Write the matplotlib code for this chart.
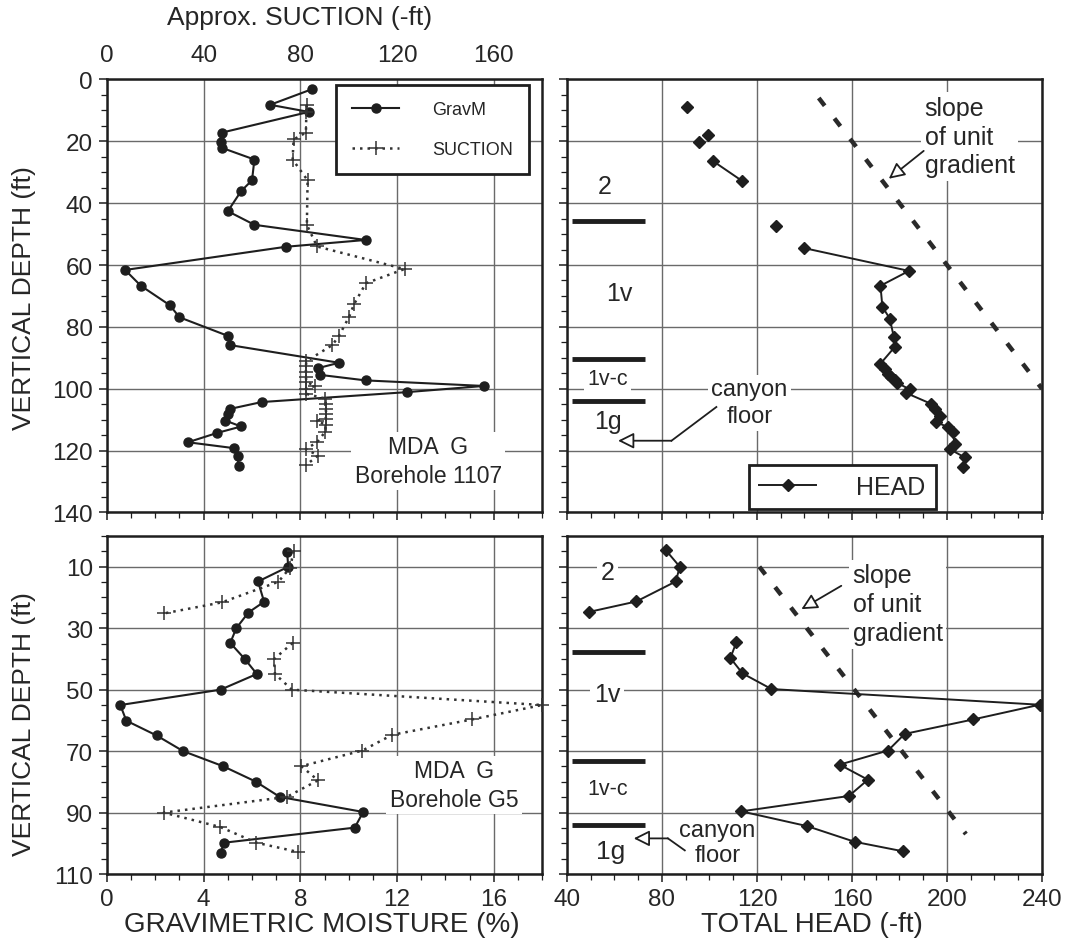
import matplotlib
matplotlib.use('Agg')
import matplotlib.pyplot as plt
import numpy as np
from matplotlib.lines import Line2D
from matplotlib.ticker import MultipleLocator

plt.rcParams['font.family'] = ['Liberation Sans', 'DejaVu Sans']

# ---------------- data: borehole 1107 (top row) ----------------
gravm_1107_depth = [3.1, 8.2, 10.5, 17.2, 20.2, 22.1, 25.9, 32.6, 36.1, 42.6, 47.0, 51.9, 54.1,
                    61.6, 66.7, 73.0, 76.9, 82.9, 85.9, 91.6, 93.3, 95.5, 97.3, 99.1, 101.1,
                    104.3, 106.5, 108.1, 110.3, 112.2, 114.3, 117.3, 119.2, 121.9, 125.1]
gravm_1107 = [8.5, 6.75, 8.35, 4.75, 4.7, 4.75, 6.1, 6.0, 5.55, 5.0, 6.1, 10.7, 7.4,
              0.75, 1.4, 2.6, 3.0, 5.0, 5.1, 9.6, 8.75, 8.8, 10.7, 15.6, 12.4,
              6.4, 5.1, 5.0, 4.9, 5.55, 4.55, 3.35, 5.25, 5.4, 5.45]

suction_1107_depth = [8.2, 10.5, 17.2, 19.4, 25.9, 32.6, 47.0, 54.0, 61.3, 65.9, 72.7, 76.7,
                      82.9, 85.9, 91.1, 92.6, 94.6, 96.2, 97.8, 99.1, 100.0, 101.6, 103.2,
                      104.9, 106.5, 108.1, 109.7, 110.3, 111.7, 113.9, 117.3, 119.5, 121.6, 124.7]
suction_1107 = [82.7, 82.5, 82.3, 77.2, 76.8, 83.0, 82.7, 86.9, 123.1, 107.1, 102.2, 100.2,
                96.0, 93.2, 82.5, 82.3, 82.3, 82.3, 82.5, 86.2, 82.3, 82.3, 90.3,
                90.5, 90.5, 90.7, 90.5, 86.9, 90.5, 90.3, 86.9, 82.3, 87.3, 82.3]

head_1107_depth = [8.9, np.nan, 18.0, np.nan, 20.1, np.nan, 26.4, 32.9, np.nan, 47.5, np.nan,
                   54.5, 61.9, 66.7, 73.5, 77.3, 83.2, 86.5, 91.9, 93.7, 95.1, 96.2, 97.3,
                   98.1, 100.2, 101.4, 104.9, 106.5, 108.7, 110.8, 112.4, 114.1, 117.9,
                   119.5, 122.2, 125.4]
head_1107 = [90.5, np.nan, 99.4, np.nan, 95.6, np.nan, 101.5, 113.9, np.nan, 128.2, np.nan,
             139.7, 184.0, 172.0, 172.8, 175.9, 177.6, 178.0, 172.0, 173.8, 175.2, 176.6, 178.0,
             179.0, 184.3, 182.9, 193.4, 194.8, 196.9, 195.5, 200.4, 202.5, 203.2,
             201.1, 207.5, 206.8]

unit_1107_depth = [6, 100]
unit_1107_head = [146, 240]
layers_1107 = [45.7, 90.4, 104.0]

# ---------------- data: borehole G5 (bottom row) ----------------
gravm_g5_depth = [5.1, 10.0, 14.8, 21.4, 24.9, 30.0, 34.8, 40.0, 44.9, 50.0, 55.0, 60.1,
                  64.9, 70.0, 74.9, 79.9, 84.9, 89.8, 94.9, 99.8, 103.0]
gravm_g5 = [7.45, 7.5, 6.25, 6.5, 5.85, 5.35, 5.1, 5.7, 6.2, 4.7, 0.55, 0.8,
            2.05, 3.15, 4.8, 6.15, 7.15, 10.6, 10.25, 4.85, 4.7]

suction_g5_depth = [4.9, 10.3, 14.9, 21.6, 25.2, np.nan, 34.8, 40.0, 44.9, 50.0, 55.0, 59.7,
                    64.7, 69.8, 74.9, 79.5, 84.9, 90.0, 94.7, 99.8, 102.8]
suction_g5 = [77.2, 75.8, 70.9, 47.5, 23.5, np.nan, 76.8, 69.2, 69.5, 76.5, 180.0, 151.0,
              118.0, 105.7, 80.4, 87.3, 74.4, 23.5, 46.9, 61.8, 79.0]

head_g5_depth = [4.6, 10.0, 14.8, 21.3, 24.7, np.nan, 34.6, 39.7, 44.7, 49.8, 54.9, 59.7,
                 64.4, 69.8, 74.4, 79.3, 84.6, 89.6, 94.4, 99.5, 102.6]
head_g5 = [81.6, 87.5, 85.8, 69.2, 49.3, np.nan, 111.3, 108.8, 113.9, 126.1, 239.0, 211.0,
           182.2, 175.2, 154.8, 166.7, 158.7, 113.4, 141.1, 161.1, 181.5]

unit_g5_depth = [10, 97]
unit_g5_head = [121, 208]
layers_g5 = [37.7, 73.2, 94.0]

# ---------------- styling ----------------
INK = '#1e1e1e'
GRID = '#6a6a6a'
TXT = '#262626'

fig = plt.figure(figsize=(10.71, 9.53), dpi=100)

ax_tl = fig.add_axes([0.0999, 0.4612, 0.4062, 0.4544])
ax_tr = fig.add_axes([0.5294, 0.4612, 0.4435, 0.4544])
ax_bl = fig.add_axes([0.0999, 0.0818, 0.4062, 0.3547])
ax_br = fig.add_axes([0.5294, 0.0818, 0.4435, 0.3547])


def style(ax, xlim, xmaj, xmin, ylim, ymaj, ymin, xlabels, ylabels):
    ax.set_xlim(xlim)
    ax.set_ylim(ylim)
    ax.xaxis.set_major_locator(MultipleLocator(xmaj))
    ax.xaxis.set_minor_locator(MultipleLocator(xmin))
    ax.set_yticks(ymaj)
    ax.yaxis.set_minor_locator(MultipleLocator(ymin))
    ax.grid(True, which='major', color=GRID, lw=1.0)
    ax.set_axisbelow(True)
    ax.tick_params(which='major', direction='out', length=6, width=1.1, color=INK,
                   labelsize=17.5, labelcolor=TXT, pad=4)
    ax.tick_params(which='minor', direction='out', length=4, width=0.9, color=INK)
    ax.tick_params(axis='x', labelbottom=xlabels)
    ax.tick_params(axis='y', labelleft=ylabels)
    for sp in ax.spines.values():
        sp.set_linewidth(1.8)
        sp.set_color(INK)


style(ax_tl, (0, 18), 4, 1, (140, 0), np.arange(0, 141, 20), 5, False, True)
style(ax_tr, (40, 240), 40, 10, (140, 0), np.arange(0, 141, 20), 5, False, False)
style(ax_bl, (0, 18), 4, 1, (110, 0), np.arange(10, 111, 20), 5, True, True)
style(ax_br, (40, 240), 40, 10, (110, 0), np.arange(10, 111, 20), 5, True, False)

# twin (suction) axes
tw_tl = ax_tl.twiny()
tw_bl = ax_bl.twiny()
for tw in (tw_tl, tw_bl):
    tw.set_xlim(0, 180)
    tw.xaxis.set_major_locator(MultipleLocator(40))
    tw.tick_params(which='major', direction='out', length=0, width=1, color=INK,
                   labelsize=17.5, labelcolor=TXT, pad=10)
    for sp in tw.spines.values():
        sp.set_visible(False)
tw_bl.tick_params(labeltop=False, length=0)

grav_kw = dict(color=INK, lw=1.5, marker='o', ms=6.5, zorder=4)
suc_kw = dict(color='#333333', lw=1.8, ls=(0, (1, 2)), marker='+', ms=10, mew=1.1,
              zorder=3, clip_on=False)
head_kw = dict(color=INK, lw=1.4, marker='D', ms=6.3, zorder=4)
unit_kw = dict(color='#2a2a2a', lw=3.2, ls=(0, (2.2, 3.6)), zorder=3)

ax_tl.plot(gravm_1107, gravm_1107_depth, **grav_kw)
tw_tl.plot(suction_1107, suction_1107_depth, **suc_kw)
ax_bl.plot(gravm_g5, gravm_g5_depth, **grav_kw)
tw_bl.plot(suction_g5, suction_g5_depth, **suc_kw)

ax_tr.plot(head_1107, head_1107_depth, **head_kw)
ax_br.plot(head_g5, head_g5_depth, **head_kw)
ax_tr.plot(unit_1107_head, unit_1107_depth, **unit_kw)
ax_br.plot(unit_g5_head, unit_g5_depth, **unit_kw)

# layer boundaries
for ax, layers in ((ax_tr, layers_1107), (ax_br, layers_g5)):
    for d in layers:
        ax.plot([42, 73], [d, d], color=INK, lw=3.5, solid_capstyle='butt', zorder=3)

wbox = dict(boxstyle='square,pad=0.15', fc='white', ec='none')

# borehole labels
ax_tl.text(13.3, 123.4, 'MDA  G\nBorehole 1107', fontsize=16.5, color=TXT, ha='center',
           va='center', linespacing=1.3, bbox=wbox, zorder=5)
ax_bl.text(14.35, 81, 'MDA  G\nBorehole G5', fontsize=16.5, color=TXT, ha='center',
           va='center', linespacing=1.3, bbox=wbox, zorder=5)

# stratigraphic unit labels
for ax, pos in ((ax_tr, [(55.9, 34.4, '2', 18), (62.2, 69.2, '1v', 18),
                         (57.1, 96.8, '1v-c', 15.5), (57.1, 110.4, '1g', 18)]),
                (ax_br, [(57, 11.8, '2', 18), (57, 51.4, '1v', 18),
                         (57, 82.2, '1v-c', 15.5), (58.2, 102.4, '1g', 19)])):
    for x, y, s, fs in pos:
        ax.text(x, y, s, fontsize=fs, color=TXT, ha='center', va='center',
                bbox=wbox, zorder=5)

# slope of unit gradient annotations
arrow_open = dict(arrowstyle='-|>', fc='white', ec=INK, lw=1.3, mutation_scale=24,
                  shrinkA=0, shrinkB=0)
ax_tr.text(190.6, 18.5, 'slope\nof unit\ngradient', fontsize=18, color=TXT, ha='left',
           va='center', linespacing=1.25, bbox=wbox, zorder=5)
ax_tr.annotate('', xy=(175.5, 32.1), xytext=(190.2, 23.1), arrowprops=arrow_open, zorder=6)
ax_br.text(160.3, 22.2, 'slope\nof unit\ngradient', fontsize=18, color=TXT, ha='left',
           va='center', linespacing=1.25, bbox=wbox, zorder=5)
ax_br.annotate('', xy=(138.7, 23.8), xytext=(155.5, 16.2), arrowprops=arrow_open, zorder=6)

# canyon floor annotations
ax_tr.text(116.8, 104.5, 'canyon\nfloor', fontsize=17, color=TXT, ha='center', va='center',
           linespacing=1.3, bbox=wbox, zorder=5)
ax_tr.plot([102.9, 84.0], [105.9, 116.8], color=INK, lw=1.3, zorder=6)
ax_tr.annotate('', xy=(61.5, 116.8), xytext=(84.0, 116.8), arrowprops=arrow_open, zorder=6)
ax_br.text(103.4, 99.8, 'canyon\nfloor', fontsize=17, color=TXT, ha='center', va='center',
           linespacing=1.15, zorder=5)
ax_br.plot([89.6, 82.5], [102.3, 98.4], color=INK, lw=1.3, zorder=6)
ax_br.annotate('', xy=(68.1, 98.4), xytext=(82.5, 98.4), arrowprops=arrow_open, zorder=6)

# legends
h1 = [Line2D([], [], **{k: v for k, v in grav_kw.items() if k != 'zorder'}),
      Line2D([], [], **{k: v for k, v in suc_kw.items() if k not in ('zorder', 'clip_on')})]
leg = tw_tl.legend(h1, ['GravM', 'SUCTION'], loc='upper right', bbox_to_anchor=(0.970, 0.987),
                   fancybox=False, framealpha=1, edgecolor=INK, fontsize=13, labelspacing=1.25,
                   borderpad=0.9, handlelength=2.6, handletextpad=1.8, borderaxespad=0)
leg.get_frame().set_linewidth(2)
for t in leg.get_texts():
    t.set_color(TXT)

h2 = [Line2D([], [], **{k: v for k, v in head_kw.items() if k != 'zorder'})]
leg2 = ax_tr.legend(h2, ['HEAD'], loc='lower left', bbox_to_anchor=(0.383, 0.008),
                    fancybox=False, framealpha=1, edgecolor=INK, fontsize=18,
                    borderpad=0.4, handlelength=2.3, handletextpad=1.6, borderaxespad=0)
leg2.get_frame().set_linewidth(2)
leg2.set_zorder(7)
for t in leg2.get_texts():
    t.set_color(TXT)

# axis titles
fig.text(24 / 1071, 1 - 298 / 953, 'VERTICAL DEPTH (ft)', rotation=90, fontsize=19,
         color=TXT, ha='center', va='center')
fig.text(24 / 1071, 1 - 724 / 953, 'VERTICAL DEPTH (ft)', rotation=90, fontsize=19,
         color=TXT, ha='center', va='center')
fig.text(322 / 1071, 1 - 925 / 953, 'GRAVIMETRIC MOISTURE (%)', fontsize=20,
         color=TXT, ha='center', va='center')
fig.text(812 / 1071, 1 - 925 / 953, 'TOTAL HEAD (-ft)', fontsize=20,
         color=TXT, ha='center', va='center')
fig.text(300 / 1071, 1 - 18 / 953, 'Approx. SUCTION (-ft)', fontsize=19,
         color=TXT, ha='center', va='center')

fig.savefig('out.png', dpi=100)
